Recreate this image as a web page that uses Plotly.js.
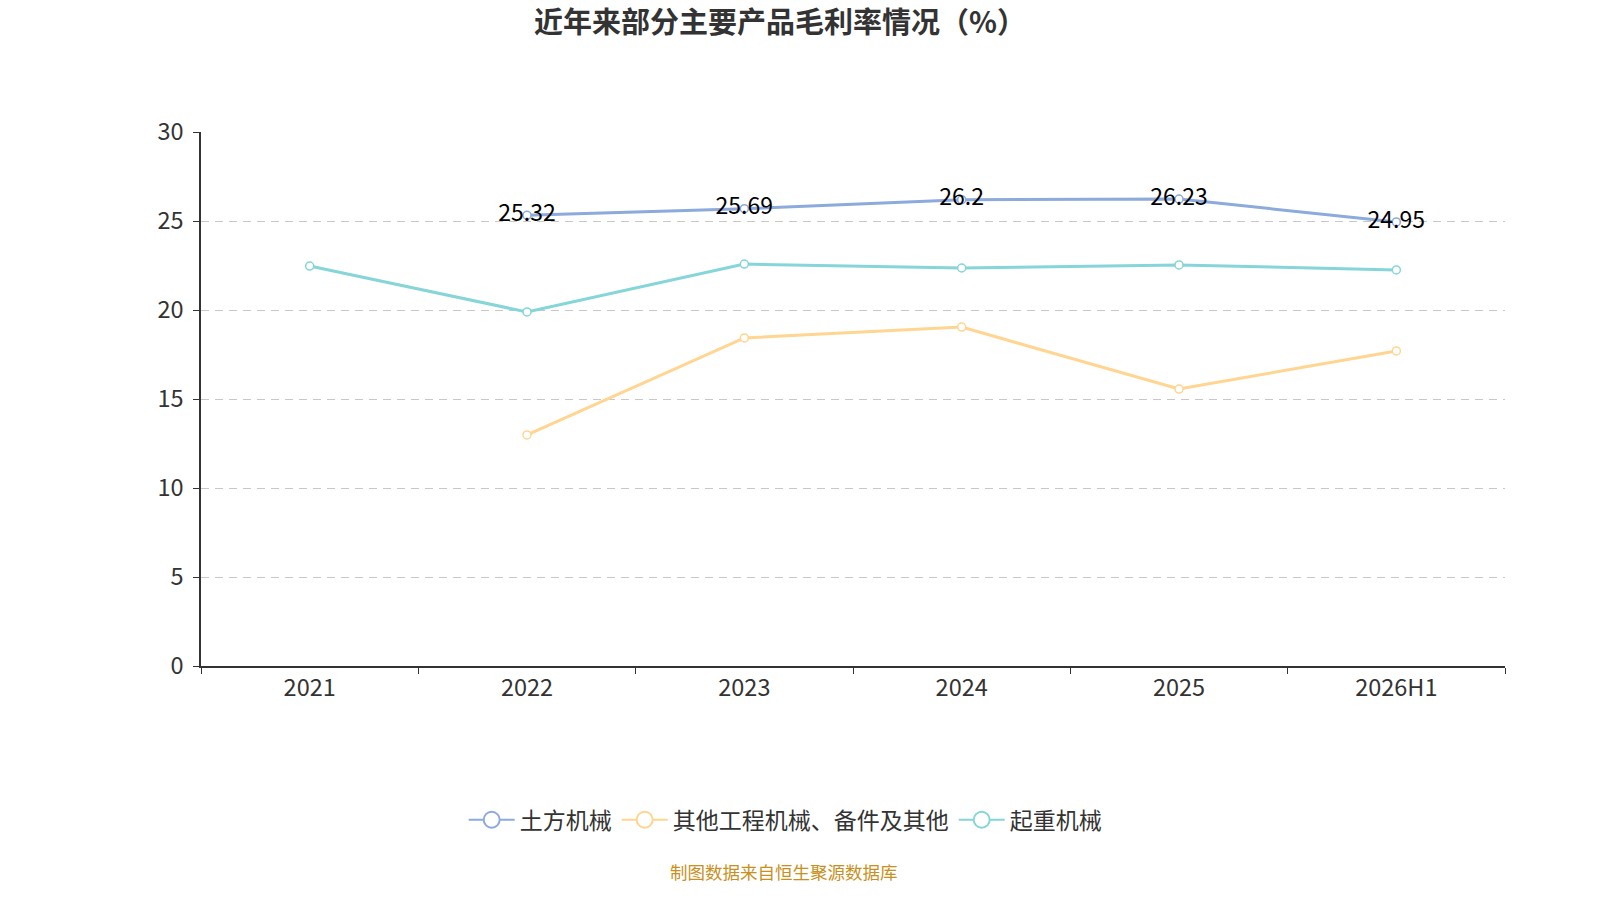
<!DOCTYPE html>
<html>
<head>
<meta charset="utf-8">
<script src="https://cdn.plot.ly/plotly-3.0.1.min.js"></script>
<style>html,body{margin:0;padding:0;background:#fff}#chart{width:1600px;height:900px}</style>
</head>
<body>
<div id="chart"></div>
<script>
const categories = ["2021", "2022", "2023", "2024", "2025", "2026H1"];
const seriesNames = ["土方机械", "其他工程机械、备件及其他", "起重机械"];
const earthMoving = [null, 25.32, 25.69, 26.2, 26.23, 24.95];
const otherMachinery = [null, 12.98, 18.43, 19.04, 15.56, 17.70];
const lifting = [22.47, 19.89, 22.58, 22.36, 22.53, 22.25];
const earthLabels = ["", "25.32", "25.69", "26.2", "26.23", "24.95"];
const yTicks = [0, 5, 10, 15, 20, 25, 30];

const colors = ["#8caadb", "#ffd591", "#86d5d8"];
const font = "'Noto Sans CJK SC', 'Noto Sans', sans-serif";

function mk(name, y, color, text) {
  const t = {
    type: "scatter",
    mode: text ? "lines+markers+text" : "lines+markers",
    name: name,
    x: categories,
    y: y,
    line: {color: color, width: 3},
    marker: {symbol: "circle", size: 8, color: "#ffffff", line: {color: color, width: 1.5}},
    connectgaps: false,
    cliponaxis: false,
    showlegend: false,
    hoverinfo: "x+y+name"
  };
  if (text) {
    t.text = text;
    t.textposition = "middle center";
    t.textfont = {family: font, size: 23, color: "#000000"};
  }
  return t;
}

function legendItem(name, color) {
  return {
    type: "scatter", mode: "lines+markers", name: name,
    x: [categories[0]], y: [null],
    line: {color: color, width: 2},
    marker: {symbol: "circle", size: 20, color: "#ffffff", line: {color: color, width: 2}},
    showlegend: true, hoverinfo: "skip"
  };
}

const data = [
  mk(seriesNames[0], earthMoving, colors[0], earthLabels),
  mk(seriesNames[1], otherMachinery, colors[1]),
  mk(seriesNames[2], lifting, colors[2]),
  legendItem(seriesNames[0], colors[0]),
  legendItem(seriesNames[1], colors[1]),
  legendItem(seriesNames[2], colors[2])
];

const layout = {
  width: 1600, height: 900,
  paper_bgcolor: "#ffffff", plot_bgcolor: "#ffffff",
  margin: {l: 201, r: 95, t: 132, b: 234},
  font: {family: font, color: "#333333"},
  title: {text: "<b>近年来部分主要产品毛利率情况（%）</b>", x: 0.4875, xanchor: "center", y: 0.975, yanchor: "middle",
          font: {family: font, size: 29, color: "#333333"}},
  showlegend: true,
  legend: {orientation: "h", x: 0.448, xanchor: "center", y: -0.288, yanchor: "middle",
           font: {family: font, size: 23, color: "#333333"}, itemsizing: "trace", itemwidth: 46,
           traceorder: "normal"},
  xaxis: {
    type: "category", range: [-0.5, 5.5],
    showline: true, linecolor: "#333333", linewidth: 1.5,
    ticks: "outside", tickson: "boundaries", ticklen: 6, tickcolor: "#333333",
    showgrid: false, zeroline: false,
    tickfont: {family: font, size: 23.5, color: "#333333"}
  },
  yaxis: {
    range: [0, 30], tickvals: yTicks, ticktext: yTicks.map(String),
    showline: true, linecolor: "#333333", linewidth: 1.5,
    ticks: "outside", ticklen: 6, tickcolor: "#333333", ticklabelstandoff: 5,
    showgrid: true, gridcolor: "#c8c8c8", griddash: "8px,6px", gridwidth: 1.4,
    zeroline: false,
    tickfont: {family: font, size: 23.5, color: "#333333"}
  },
  annotations: [{
    text: "制图数据来自恒生聚源数据库", xref: "paper", yref: "paper",
    x: 0.447, xanchor: "center", y: -0.385, yanchor: "middle", showarrow: false,
    font: {family: font, size: 17.5, color: "#c8901c"}
  }]
};

Plotly.newPlot("chart", data, layout, {displayModeBar: false});
</script>
</body>
</html>
